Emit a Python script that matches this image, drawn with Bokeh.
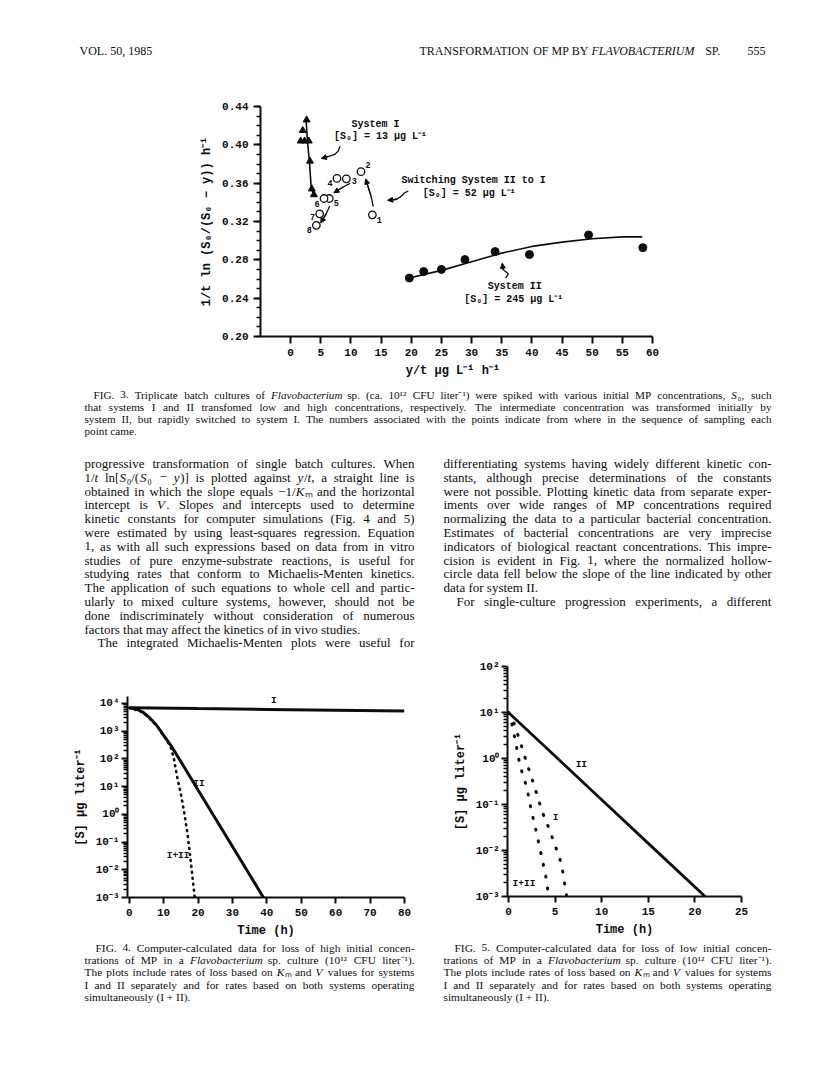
import numpy as np
from bokeh.plotting import figure
from bokeh.layouts import column, row
from bokeh.models import (Range1d, FixedTicker, CustomJSTickFormatter, Arrow,
                          NormalHead, ColumnDataSource)
from bokeh.core.properties import value
from bokeh.embed import file_html
from bokeh.resources import INLINE

# ---------------------------------------------------------------- data
# Fig. 3 -- integrated Michaelis-Menten plot
sys1_x = [2.65, 2.0, 1.66, 2.3, 3.0, 3.2, 3.5, 3.86]
sys1_y = [0.426, 0.415, 0.404, 0.404, 0.404, 0.383, 0.354, 0.348]
sys1_fit_x = [2.55, 2.77, 3.1, 3.43, 4.15]
sys1_fit_y = [0.427, 0.405, 0.383, 0.3535, 0.346]
switch_x = [13.55, 11.66, 9.23, 7.68, 6.41, 5.53, 4.81, 4.26]
switch_y = [0.327, 0.372, 0.3645, 0.365, 0.344, 0.344, 0.328, 0.316]
switch_labels = ["1", "2", "3", "4", "5", "6", "7", "8"]
sys2_x = [19.68, 22.06, 25.0, 28.9, 33.9, 39.6, 49.4, 58.4]
sys2_y = [0.261, 0.2677, 0.270, 0.2803, 0.2886, 0.2855, 0.306, 0.2927]
sys2_fit_x = [19.3, 25, 30, 35, 40, 45, 50, 55, 58.3]
sys2_fit_y = [0.2605, 0.269, 0.278, 0.287, 0.294, 0.2985, 0.302, 0.304, 0.304]
fig3_xticks = [0, 5, 10, 15, 20, 25, 30, 35, 40, 45, 50, 55, 60]
fig3_yticks = [0.20, 0.24, 0.28, 0.32, 0.36, 0.40, 0.44]

# Fig. 4 -- high initial concentration
f4_I_t = [0, 20, 40, 60, 80]
f4_I_s = [7000, 6500, 6100, 5700, 5300]
f4_II_t = [0, 2, 4, 6, 8, 10, 12, 15, 20, 25, 30, 35, 39]
f4_II_s = [7000, 6300, 4800, 3000, 1600, 700, 320, 80, 7.5, 0.72, 0.069, 0.0066, 0.001]
f4_I_II_t = [0, 4, 8, 10, 12, 13, 14, 15, 16, 17, 18, 19]
f4_I_II_s = [7000, 4800, 1600, 700, 280, 100, 20, 5.6, 1.1, 0.18, 0.015, 0.0011]
f4_xticks = [0, 10, 20, 30, 40, 50, 60, 70, 80]

# Fig. 5 -- low initial concentration
f5_II_t = [0, 5, 10, 15, 21.1]
f5_II_s = [10, 1.13, 0.127, 0.0143, 0.001]
f5_I_t = [0, 0.43, 1.32, 2.1, 2.93, 3.64, 4.36, 5.0, 5.68, 6.25]
f5_I_s = [10, 7.5, 2.1, 0.66, 0.2, 0.068, 0.03, 0.013, 0.0052, 0.001]
f5_I_II_t = [0, 0.25, 0.79, 1.25, 1.96, 2.46, 3.04, 3.57, 4.1, 4.25]
f5_I_II_s = [10, 7.5, 2.2, 0.68, 0.24, 0.074, 0.023, 0.0072, 0.0022, 0.0012]
f5_xticks = [0, 5, 10, 15, 20, 25]

# ---------------------------------------------------------------- texts
header_left = "VOL. 50, 1985"
header_title = "TRANSFORMATION OF MP BY *FLAVOBACTERIUM* SP."
header_page = "555"

caption3 = [
    "FIG. 3. Triplicate batch cultures of *Flavobacterium* sp. (ca. 10¹² CFU liter⁻¹) were spiked with various initial MP concentrations, *S*₀, such",
    "that systems I and II transfomed low and high concentrations, respectively. The intermediate concentration was transformed initially by",
    "system II, but rapidly switched to system I. The numbers associated with the points indicate from where in the sequence of sampling each",
    "point came.",
]
body_left = [
    "progressive transformation of single batch cultures. When",
    "1/*t* ln[*S*₀/(*S*₀ − *y*)] is plotted against *y*/*t*, a straight line is",
    "obtained in which the slope equals −1/*K*ₘ and the horizontal",
    "intercept is *V*. Slopes and intercepts used to determine",
    "kinetic constants for computer simulations (Fig. 4 and 5)",
    "were estimated by using least-squares regression. Equation",
    "1, as with all such expressions based on data from in vitro",
    "studies of pure enzyme-substrate reactions, is useful for",
    "studying rates that conform to Michaelis-Menten kinetics.",
    "The application of such equations to whole cell and partic-",
    "ularly to mixed culture systems, however, should not be",
    "done indiscriminately without consideration of numerous",
    "factors that may affect the kinetics of in vivo studies.",
    "The integrated Michaelis-Menten plots were useful for",
]
body_right = [
    "differentiating systems having widely different kinetic con-",
    "stants, although precise determinations of the constants",
    "were not possible. Plotting kinetic data from separate exper-",
    "iments over wide ranges of MP concentrations required",
    "normalizing the data to a particular bacterial concentration.",
    "Estimates of bacterial concentrations are very imprecise",
    "indicators of biological reactant concentrations. This impre-",
    "cision is evident in Fig. 1, where the normalized hollow-",
    "circle data fell below the slope of the line indicated by other",
    "data for system II.",
    "For single-culture progression experiments, a different",
]
caption4 = [
    "FIG. 4. Computer-calculated data for loss of high initial concen-",
    "trations of MP in a *Flavobacterium* sp. culture (10¹² CFU liter⁻¹).",
    "The plots include rates of loss based on *K*ₘ and *V* values for systems",
    "I and II separately and for rates based on both systems operating",
    "simultaneously (I + II).",
]
caption5 = [
    "FIG. 5. Computer-calculated data for loss of low initial concen-",
    "trations of MP in a *Flavobacterium* sp. culture (10¹² CFU liter⁻¹).",
    "The plots include rates of loss based on *K*ₘ and *V* values for systems",
    "I and II separately and for rates based on both systems operating",
    "simultaneously (I + II).",
]

# ---------------------------------------------------------------- helpers
INK = "#0d0d0d"
MONO = "Liberation Mono"
SERIF = "Liberation Serif"
PAGE_W = 808

_W = {}
for w, chars in [(250, " .,"), (278, "ijlt/:;"), (333, "fr()[]-I'"), (389, "sJ"),
                 (444, "acez?"), (500, "bdghknopquvxy0123456789μ"), (556, "FPS"),
                 (564, "+=−<>"), (611, "ELTZ"), (667, "BCR"),
                 (722, "ADGHKNOQUVXYw"), (778, "m"), (889, "M"), (944, "W"),
                 (320, "¹²⁻"), (420, "₀"), (520, "ₘ")]:
    for c in chars:
        _W[c] = w


def seg_width(s, size):
    return sum(_W.get(c, 500) for c in s) * size / 1000.0


def parse_words(line):
    words, cur, italic = [], [], False
    buf = ""
    for ch in line:
        if ch == "*":
            if buf:
                cur.append((buf, italic))
                buf = ""
            italic = not italic
        elif ch == " ":
            if buf:
                cur.append((buf, italic))
                buf = ""
            if cur:
                words.append(cur)
            cur = []
        else:
            buf += ch
    if buf:
        cur.append((buf, italic))
    if cur:
        words.append(cur)
    return words


def set_line(store, line, x0, x1, y, size, justify, align="left"):
    words = parse_words(line)
    wws = [sum(seg_width(s, size) for s, _ in w) for w in words]
    total = sum(wws)
    gap = 0.25 * size
    if justify and len(words) > 1:
        gap = (x1 - x0 - total) / (len(words) - 1)
    full = total + gap * (len(words) - 1)
    x = x0 if align == "left" else x1 - full
    for w, ww in zip(words, wws):
        xx = x
        for s, it in w:
            store["x"].append(xx)
            store["y"].append(y)
            store["text"].append(s)
            store["style"].append("italic" if it else "normal")
            store["size"].append("%.1fpx" % size)
            xx += seg_width(s, size)
        x += ww + gap


def set_block(store, lines, x0, x1, y0, dy, size, indent, para_end, indent_lines):
    for i, ln in enumerate(lines):
        xs = x0 + (indent if i in indent_lines else 0)
        set_line(store, ln, xs, x1, y0 + i * dy, size, i not in para_end)


def new_store():
    return {"x": [], "y": [], "text": [], "style": [], "size": []}


def text_fig(w, h):
    p = figure(width=w, height=h, x_range=Range1d(0, w), y_range=Range1d(h, 0),
               x_axis_type=None, y_axis_type=None, output_backend="svg",
               toolbar_location=None, min_border=0, outline_line_color=None,
               frame_align=False)
    p.grid.visible = False
    return p


def draw_store(p, store):
    p.text(x="x", y="y", text="text", source=ColumnDataSource(store),
           text_font=value(SERIF), text_font_style="style", text_font_size="size",
           text_baseline="middle", text_align="left", text_color=INK)


def style_axis(ax, size="11px"):
    ax.axis_line_width = 2
    ax.axis_line_color = INK
    ax.major_tick_line_width = 2
    ax.major_tick_line_color = INK
    ax.minor_tick_line_color = INK
    ax.minor_tick_line_width = 1.3
    ax.major_tick_in = 0
    ax.major_tick_out = 6
    ax.minor_tick_in = 0
    ax.minor_tick_out = 4
    ax.major_label_text_font = MONO
    ax.major_label_text_font_style = "bold"
    ax.major_label_text_font_size = size
    ax.major_label_text_color = INK
    ax.axis_label_text_font = MONO
    ax.axis_label_text_font_style = "bold"
    ax.axis_label_text_font_size = "12px"
    ax.axis_label_text_color = INK


def chart_fig(**kw):
    p = figure(output_backend="svg", toolbar_location=None, outline_line_color=None,
               frame_align=False, **kw)
    p.grid.visible = False
    return p


LOG_FMT = CustomJSTickFormatter(code="""
const e = Math.round(Math.log10(tick));
const m = {"-":"\u207b","0":"\u2070","1":"\u00b9","2":"\u00b2","3":"\u00b3","4":"\u2074","5":"\u2075"};
return "10" + String(e).split("").map(c => m[c]).join("");
""")

# ---------------------------------------------------------------- header (page y 0-88)
p_head = text_fig(PAGE_W, 88)
hs = new_store()
set_line(hs, header_left, 79, 200, 50, 12.0, False)
set_line(hs, header_title, 300, 721, 50, 12.0, False, align="right")
set_line(hs, header_page, 700, 765, 50, 12.0, False, align="right")
draw_store(p_head, hs)

# ---------------------------------------------------------------- Fig. 3 (page y 88-380)
p3 = chart_fig(width=PAGE_W, height=292, x_range=Range1d(-5, 60), y_range=Range1d(0.20, 0.44),
               min_border_left=260, min_border_right=156, min_border_top=18,
               min_border_bottom=40)
p3.xaxis.ticker = FixedTicker(ticks=fig3_xticks)
p3.yaxis.ticker = FixedTicker(ticks=fig3_yticks,
                              minor_ticks=[round(0.20 + 0.01 * i, 2) for i in range(25)])
p3.yaxis.formatter = CustomJSTickFormatter(code="return tick.toFixed(2);")
for ax in (p3.xaxis[0], p3.yaxis[0]):
    style_axis(ax)
p3.xaxis.major_tick_out = 7
p3.yaxis.major_tick_out = 7
p3.xaxis.axis_label = "y/t  μg L⁻¹ h⁻¹"
p3.yaxis.axis_label = "1/t ln (S₀/(S₀ − y)) h⁻¹"

p3.line(sys1_fit_x, sys1_fit_y, line_width=1.6, color=INK)
p3.scatter(sys1_x, sys1_y, marker="triangle", size=7, color=INK)
p3.line(sys2_fit_x, sys2_fit_y, line_width=1.6, color=INK)
p3.scatter(sys2_x, sys2_y, marker="circle", size=8, color=INK)
p3.scatter(switch_x, switch_y, marker="circle", size=7.5, fill_color="white",
           line_color=INK, line_width=1.3)
num_dx = [7, 7, 8, -7, 7, -7, -7, -7]
num_dy = [5, -7, 2, 5, 4, 5, 3, 5]
p3.text(switch_x, switch_y, text=switch_labels, x_offset=num_dx, y_offset=num_dy,
        text_font=value(MONO), text_font_style="bold", text_font_size="8.5px",
        text_align="center", text_baseline="middle", text_color=INK)

ann_font = dict(text_font=value(MONO), text_font_style="bold", text_font_size="10px",
                text_baseline="middle", text_color=INK)
p3.text([14.05], [0.4217], text=["System I"], text_align="center", **ann_font)
p3.text([14.9], [0.4085], text=["[S₀] = 13 μg L⁻¹"], text_align="center", **ann_font)
p3.text([18.4], [0.3626], text=["Switching System II to I"], text_align="left", **ann_font)
p3.text([21.9], [0.3493], text=["[S₀] = 52 μg L⁻¹"], text_align="left", **ann_font)
p3.text([37.15], [0.2521], text=["System II"], text_align="center", **ann_font)
p3.text([37.0], [0.2388], text=["[S₀] = 245 μg L⁻¹"], text_align="center", **ann_font)

arrow_paths = [
    ([8.18, 7.9, 7.3, 6.3, 5.09], [0.3985, 0.3935, 0.3900, 0.3880, 0.3858]),
    ([19.5, 18.9, 18.3, 17.6, 16.1], [0.3516, 0.3500, 0.3462, 0.3432, 0.3421]),
    ([13.7, 13.3, 12.44], [0.3356, 0.3470, 0.3643]),
    ([9.84, 8.7, 7.18], [0.3598, 0.3560, 0.3500]),
    ([6.47, 5.9, 4.98], [0.3362, 0.3280, 0.3185]),
    ([35.66, 36.1, 35.2, 35.1], [0.2610, 0.2655, 0.2700, 0.2764]),
]
for xs, ys in arrow_paths:
    p3.line(xs, ys, line_width=1.3, color=INK)
    p3.add_layout(Arrow(end=NormalHead(size=5, fill_color=INK, line_color=INK),
                        x_start=xs[-2], y_start=ys[-2], x_end=xs[-1], y_end=ys[-1],
                        line_width=1.3, line_color=INK))

# ---------------------------------------------------------------- caption 3 + body (page y 380-655)
p_txt = text_fig(PAGE_W, 275)
ts = new_store()
set_block(ts, caption3, 84, 771, 14, 12.3, 11.2, 9, {3}, {0})
set_block(ts, body_left, 84, 414, 83, 13.8, 13.0, 13, {12}, {13})
set_block(ts, body_right, 443, 771, 83, 13.8, 13.0, 13, {9}, {10})
draw_store(p_txt, ts)

# ---------------------------------------------------------------- Fig. 4 (page y 655-940)
decades4 = [10.0 ** e for e in range(-3, 5)]
p4 = chart_fig(width=428, height=285, x_range=Range1d(-0.5, 80),
               y_range=Range1d(1e-3, 10 ** 4.25), y_axis_type="log",
               min_border_left=127, min_border_right=24, min_border_top=41,
               min_border_bottom=39)
p4.xaxis.ticker = FixedTicker(ticks=f4_xticks)
p4.yaxis.ticker = FixedTicker(ticks=decades4,
                              minor_ticks=[m * 10.0 ** e for e in range(-3, 4) for m in range(2, 10)])
p4.yaxis.formatter = LOG_FMT
for ax in (p4.xaxis[0], p4.yaxis[0]):
    style_axis(ax)
p4.yaxis.major_label_standoff = 2
p4.xaxis.axis_label = "Time (h)"
p4.yaxis.axis_label = "[S] μg liter⁻¹"
p4.line(f4_I_t, f4_I_s, line_width=3, color=INK)
p4.line(f4_II_t, f4_II_s, line_width=3, color=INK)
p4.line(f4_I_II_t, f4_I_II_s, line_width=2.6, color=INK, line_dash="1 5", line_cap="round")
lab_font = dict(text_font=value(MONO), text_font_style="bold", text_font_size="9.5px",
                text_baseline="middle", text_align="center", text_color=INK)
p4.text([42], [10 ** 4.1], text=["I"], **lab_font)
p4.text([20.3], [10 ** 1.1], text=["II"], **lab_font)
p4.text([14.2], [10 ** -1.5], text=["I+II"], **lab_font)

# ---------------------------------------------------------------- Fig. 5
decades5 = [10.0 ** e for e in range(-3, 3)]
p5 = chart_fig(width=380, height=285, x_range=Range1d(-0.1, 25),
               y_range=Range1d(1e-3, 1e2), y_axis_type="log",
               min_border_left=79, min_border_right=67, min_border_top=11,
               min_border_bottom=44)
p5.xaxis.ticker = FixedTicker(ticks=f5_xticks)
p5.yaxis.ticker = FixedTicker(ticks=decades5,
                              minor_ticks=[m * 10.0 ** e for e in range(-3, 2) for m in range(2, 10)])
p5.yaxis.formatter = LOG_FMT
for ax in (p5.xaxis[0], p5.yaxis[0]):
    style_axis(ax)
p5.yaxis.major_label_standoff = 2
p5.xaxis.axis_label = "Time (h)"
p5.yaxis.axis_label = "[S] μg liter⁻¹"
p5.line(f5_II_t, f5_II_s, line_width=2.8, color=INK)
p5.line(f5_I_t, f5_I_s, line_width=3, color=INK, line_dash="1 11", line_cap="round")
p5.line(f5_I_II_t, f5_I_II_s, line_width=3, color=INK, line_dash="1 11", line_cap="round")
p5.text([5.07], [10 ** -1.29], text=["I"], **lab_font)
p5.text([7.82], [10 ** -0.12], text=["II"], **lab_font)
p5.text([1.67], [10 ** -2.72], text=["I+II"], **lab_font)

# ---------------------------------------------------------------- captions 4, 5 (page y 940-1065)
p_cap = text_fig(PAGE_W, 125)
cs = new_store()
set_block(cs, caption4, 84, 414, 7, 12.4, 11.4, 11, {4}, {0})
set_block(cs, caption5, 443, 771, 7, 12.4, 11.4, 11, {4}, {0})
draw_store(p_cap, cs)

layout = column(p_head, p3, p_txt, row(p4, p5), p_cap)
open("out.html", "w").write(file_html(layout, INLINE, "Flavobacterium MP transformation"))
